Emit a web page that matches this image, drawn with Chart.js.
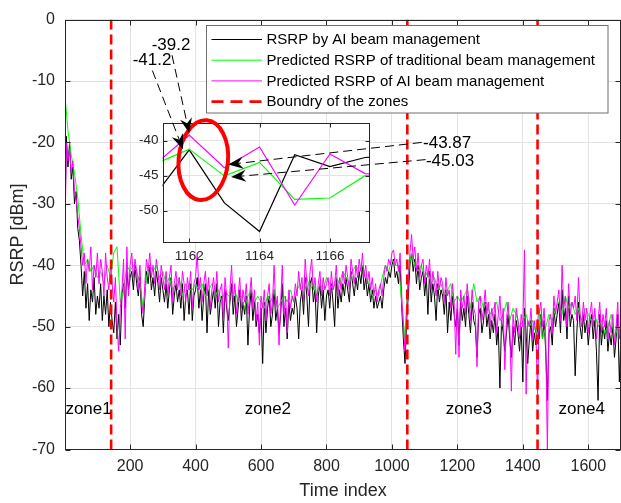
<!DOCTYPE html>
<html><head><meta charset="utf-8">
<script src="https://cdn.jsdelivr.net/npm/chart.js@4.4.1/dist/chart.umd.min.js"></script>
<style>
html,body{margin:0;padding:0;background:#fff;overflow:hidden;}
#wrap{position:relative;width:621px;height:503px;}
canvas{position:absolute;left:0;top:0;}
#inset{pointer-events:none;}
</style></head><body>
<div id="wrap"><canvas id="main" width="621" height="503"></canvas><canvas id="inset" width="621" height="503"></canvas></div>
<script>
// ---------------- DATA ----------------
// time grid: 1, 5, 10, ..., 1700 (fine) and 1, 10, 20, ..., 1700 (coarse)
const timeIndex = Array.from({length: 341}, (_, k) => k === 0 ? 1 : 5 * k);
const timeCoarse = Array.from({length: 171}, (_, k) => k === 0 ? 1 : 10 * k);

// RSRP by AI beam management (black)
const rsrpAI = [-33,
-19,-24,-20,-26,-24,-30,-28,-34,-36,-40,
-45,-41,-47,-43,-49,-44,-46,-42,-48,-45,
-47,-43,-49,-45,-48,-44,-50,-46,-49,-51,
-46,-52,-48,-53,-45,-43,-47,-41,-44,-42,
-41,-44,-40,-43,-45,-42,-48,-50,-45,-41,
-43,-40,-44,-42,-45,-41,-43,-46,-42,-44,
-46,-43,-47,-44,-42,-48,-45,-43,-46,-44,
-47,-43,-49,-45,-44,-48,-43,-49,-45,-44,
-42,-47,-44,-49,-45,-43,-51,-44,-48,-46,
-44,-47,-43,-50,-46,-45,-51,-44,-47,-49,
-46,-43,-48,-45,-50,-47,-44,-49,-46,-48,
-45,-53,-47,-44,-49,-46,-50,-48,-51,-47,
-56,-46,-51,-47,-45,-50,-48,-44,-49,-47,
-51,-48,-43,-50,-47,-52,-46,-49,-47,-48,
-45,-47,-52,-46,-44,-48,-42,-45,-50,-43,
-42,-46,-44,-51,-45,-43,-47,-44,-49,-45,
-44,-47,-43,-46,-50,-42,-47,-44,-46,-43,
-45,-42,-44,-46,-41,-43,-45,-42,-44,-41,
-43,-40,-44,-42,-45,-43,-46,-44,-47,-45,
-47,-46,-45,-47,-44,-42,-43,-41,-42,-40,
-39,-42,-41,-43,-40,-47,-52,-56,-49,-45,
-40,-38,-41,-39,-43,-40,-44,-42,-41,-45,
-42,-48,-41,-46,-43,-45,-49,-43,-46,-44,
-45,-48,-44,-51,-46,-49,-45,-48,-50,-47,
-53,-46,-49,-47,-50,-45,-48,-51,-46,-49,
-50,-55,-48,-47,-51,-49,-46,-50,-48,-52,
-49,-51,-48,-53,-50,-60,-49,-51,-54,-51,
-48,-52,-55,-50,-53,-49,-51,-54,-50,-59,
-47,-51,-56,-52,-49,-54,-51,-53,-50,-52,
-48,-52,-49,-54,-62,-51,-50,-53,-47,-50,
-48,-46,-51,-44,-49,-47,-52,-45,-50,-48,
-49,-58,-51,-46,-50,-52,-48,-51,-49,-53,
-50,-48,-52,-49,-54,-62,-48,-53,-50,-52,
-49,-54,-51,-53,-50,-55,-52,-48,-59,-51];

// Predicted RSRP of traditional beam management (green), coarse grid
const predTraditional = [-12.5,
-18,-22,-25,-29,-35,-40,-39,-41,-40,-42,
-41,-43,-40,-42,-38,-37,-46,-44,-40,-41,
-40,-41,-43,-47,-42,-40,-41,-40,-42,-41,
-43,-42,-44,-43,-42,-45,-43,-44,-44,-43,
-44,-43,-45,-44,-43,-45,-44,-46,-44,-45,
-45,-44,-46,-45,-47,-45,-44,-46,-45,-46,
-47,-45,-46,-44,-47,-46,-45,-46,-44,-46,
-44,-43,-45,-42,-44,-43,-45,-43,-44,-42,
-43,-44,-42,-43,-41,-42,-43,-41,-40,-41,
-40,-42,-43,-45,-44,-45,-42,-40,-41,-39,
-40,-40,-46,-52,-41,-38,-40,-41,-40,-42,
-41,-43,-42,-44,-43,-45,-44,-43,-46,-45,
-46,-45,-44,-47,-43,-46,-45,-47,-46,-48,
-47,-46,-49,-48,-46,-49,-47,-48,-50,-49,
-48,-50,-49,-51,-47,-52,-50,-48,-49,-47,
-46,-48,-45,-47,-46,-48,-47,-49,-47,-48,
-49,-48,-50,-49,-51,-50,-48,-52,-50,-51];

// Predicted RSRP of AI beam management (magenta)
const predAI = [-36,
-20,-23,-21,-25,-23,-28,-29,-32,-34,-37,
-40,-38,-43,-39,-41,-37,-44,-40,-42,-38,
-43,-39,-41,-45,-38,-42,-44,-40,-43,-46,
-42,-50,-54,-47,-44,-39,-52,-37,-45,-40,
-38,-42,-39,-41,-44,-40,-46,-48,-43,-39,
-41,-38,-42,-40,-43,-39,-41,-44,-40,-42,
-44,-41,-45,-42,-40,-46,-43,-41,-44,-42,
-45,-41,-43,-46,-42,-44,-41,-47,-43,-42,
-38,-44,-42,-46,-43,-41,-45,-42,-47,-44,
-42,-45,-41,-46,-44,-43,-49,-42,-45,-53.5,
-44,-40,-46,-43,-48,-45,-42,-47,-44,-46,
-43,-48,-45,-42,-47,-44,-49,-46,-53,-45,
-47,-44,-49,-45,-43,-48,-46,-40,-47,-45,
-53,-46,-40,-48,-45,-51,-44,-47,-45,-46,
-43,-45,-41,-44,-42,-46,-39,-43,-45,-41,
-39,-44,-42,-46,-43,-41,-45,-42,-44,-43,
-42,-45,-41,-44,-43,-40,-45,-42,-44,-41,
-43,-40,-42,-44,-39,-41,-43,-40,-42,-39,
-41,-38,-42,-40,-43,-41,-44,-42,-45,-43,
-46,-44,-43,-45,-42,-40,-41,-39,-40,-38,
-37.5,-40,-39,-41,-38,-45,-50,-54,-47,-43,
-38,-35,-39,-37,-41,-38,-42,-40,-39,-43,
-40,-42,-39,-44,-41,-43,-45,-41,-44,-42,
-43,-46,-42,-45,-44,-47,-43,-46,-54.5,-45,
-55,-44,-47,-45,-48,-43,-46,-49,-44,-47,
-48,-56.5,-46,-45,-49,-47,-44,-48,-46,-50,
-47,-49,-46,-51,-48,-45,-50,-47,-57,-49,
-46,-50,-60.5,-48,-51,-47,-49,-52,-48,-50,
-37.5,-61,-49,-50,-47,-52,-49,-51,-61,-48,
-46,-50,-47,-52,-70,-49,-48,-51,-45,-48,
-46,-44,-49,-40,-47,-45,-50,-43,-48,-46,
-47,-45,-49,-42,-48,-50,-46,-49,-47,-51,
-48,-46,-50,-47,-52,-49,-46,-51,-48,-50,
-47,-52,-49,-51,-48,-53,-50,-46,-52,-49];

const zoneBoundaries = [142, 1047, 1445];
const zoneNames = ['zone1', 'zone2', 'zone3', 'zone4'];
const xTicks = [200, 400, 600, 800, 1000, 1200, 1400, 1600];
const yTicks = [0, -10, -20, -30, -40, -50, -60, -70];

// inset (zoom on time index 1161..1168)
const insetTime = [1161, 1162, 1163, 1164, 1165, 1166, 1167, 1168];
const insetAI = [-48.0, -41.3, -48.9, -53.0, -42.0, -43.7, -42.4, -42.0];
const insetTraditional = [-43.4, -41.2, -45.03, -43.1, -48.4, -48.2, -45.0, -45.0];
const insetPredAI = [-43.5, -39.2, -43.87, -40.9, -49.2, -41.9, -44.7, -45.0];
const insetXTicks = [1162, 1164, 1166];
const insetYTicks = [-50, -45, -40];

// ---------------- LAYOUT / STYLE ----------------
const FONT = "'Liberation Sans', Arial, Helvetica, sans-serif";
const AX = '#262626';
const GRID = '#e3e3e3';
const zoneLabelPos = {t: [73, 621, 1235, 1580], db: -63.4};
const callouts = [
  {text: '-39.2', lt: 325, ld: -4.25, align: 'center', ft: 328, fd: -5.8, tx: 1162.0, ty: -38.9},
  {text: '-41.2', lt: 267, ld: -6.65, align: 'center', ft: 268, fd: -8.3, tx: 1161.82, ty: -41.2},
  {text: '-43.87', lt: 1095, ld: -20.2, align: 'left', ft: 1091, fd: -20.0, tx: 1163.11, ty: -43.4},
  {text: '-45.03', lt: 1104, ld: -23.15, align: 'left', ft: 1103, fd: -22.8, tx: 1163.19, ty: -45.2}
];
const ellipseSpec = {x: 1162.4, y: -42.78, rx: 24.7, ry: 40, rot: 0.09};

const toXY = (xs, ys) => ys.map((y, i) => ({x: xs[i], y}));
const zoneData = [];
zoneBoundaries.forEach(b => { zoneData.push({x: b, y: 0}, {x: b, y: -70}, {x: b, y: null}); });

function drawBoxAndTicks(c, xt, yt, tl) {
  const ctx = c.ctx, a = c.chartArea;
  const L = Math.round(a.left) + 0.5, R = Math.round(a.right) - 0.5, T = Math.round(a.top) + 0.5, B = Math.round(a.bottom) - 0.5;
  ctx.save();
  ctx.strokeStyle = AX; ctx.lineWidth = 1; ctx.setLineDash([]);
  ctx.strokeRect(L, T, R - L, B - T);
  ctx.beginPath();
  xt.forEach(v => {
    const p = Math.round(c.scales.x.getPixelForValue(v)) + 0.5;
    ctx.moveTo(p, B); ctx.lineTo(p, B - tl);
    ctx.moveTo(p, T); ctx.lineTo(p, T + tl);
  });
  yt.forEach(v => {
    const p = Math.round(c.scales.y.getPixelForValue(v)) + 0.5;
    ctx.moveTo(L, p); ctx.lineTo(L + tl, p);
    ctx.moveTo(R, p); ctx.lineTo(R - tl, p);
  });
  ctx.stroke();
  ctx.restore();
}

const mainDecor = {
  id: 'mainDecor',
  beforeDraw(c) { const ctx = c.ctx; ctx.save(); ctx.fillStyle = '#fff'; ctx.fillRect(0, 0, c.width, c.height); ctx.restore(); },
  afterDatasetsDraw(c) { drawBoxAndTicks(c, xTicks, yTicks, 5); },
  afterDraw(c) {
    const ctx = c.ctx, xs = c.scales.x, ys = c.scales.y;
    ctx.save();
    // zone labels
    ctx.font = '17px ' + FONT; ctx.fillStyle = '#000'; ctx.textAlign = 'center'; ctx.textBaseline = 'middle';
    zoneNames.forEach((z, i) => ctx.fillText(z, xs.getPixelForValue(zoneLabelPos.t[i]), ys.getPixelForValue(zoneLabelPos.db)));
    // legend
    const bx = 206.5, by = 25.5, bw = 401.5, bh = 87.5;
    ctx.fillStyle = '#fff'; ctx.fillRect(bx, by, bw, bh);
    ctx.strokeStyle = '#6e6e6e'; ctx.lineWidth = 1; ctx.strokeRect(bx, by, bw, bh);
    ctx.font = '15px ' + FONT; ctx.textAlign = 'left'; ctx.textBaseline = 'middle';
    c.data.datasets.forEach((d, i) => {
      const y = by + 14 + i * 20.7;
      ctx.save();
      ctx.strokeStyle = d.borderColor; ctx.lineWidth = d.borderWidth;
      ctx.setLineDash(d.borderDash ? [12, 7] : []);
      ctx.beginPath(); ctx.moveTo(211.5, y); ctx.lineTo(262, y); ctx.stroke();
      ctx.restore();
      ctx.fillStyle = '#000';
      ctx.fillText(d.label, 266.5, y + 0.5);
    });
    ctx.restore();
  }
};

const mainChart = new Chart(document.getElementById('main'), {
  type: 'line',
  data: {datasets: [
    {label: 'RSRP by AI beam management', data: toXY(timeIndex, rsrpAI), borderColor: '#000000', borderWidth: 1, order: 3},
    {label: 'Predicted RSRP of traditional beam management', data: toXY(timeCoarse, predTraditional), borderColor: '#00ff00', borderWidth: 1, order: 2},
    {label: 'Predicted RSRP of AI beam management', data: toXY(timeIndex, predAI), borderColor: '#ff00ff', borderWidth: 1, order: 1},
    {label: 'Boundry of the zones', data: zoneData, borderColor: '#ff0000', borderWidth: 2.6, borderDash: [10, 5], order: 0, spanGaps: false}
  ]},
  options: {
    responsive: false, animation: false, devicePixelRatio: 1, events: [],
    layout: {padding: {left: 0, right: 0, top: 12.5, bottom: 0}},
    elements: {point: {radius: 0, hoverRadius: 0}, line: {tension: 0, borderJoinStyle: 'round', fill: false}},
    plugins: {legend: {display: false}, tooltip: {enabled: false}},
    scales: {
      x: {type: 'linear', min: 1, max: 1700,
        afterBuildTicks: s => { s.ticks = xTicks.map(v => ({value: v})); },
        afterFit: s => { s.height = 53.5; },
        grid: {color: GRID, drawTicks: false, lineWidth: 1},
        border: {display: false},
        ticks: {font: {family: FONT, size: 16}, color: AX, padding: 7, maxRotation: 0, autoSkip: false, callback: v => String(v)},
        title: {display: true, text: 'Time index', font: {family: FONT, size: 18}, color: AX, padding: {top: 0, bottom: 1}}
      },
      y: {type: 'linear', min: -70, max: 0,
        afterBuildTicks: s => { s.ticks = yTicks.map(v => ({value: v})); },
        afterFit: s => { s.width = 65; },
        grid: {color: GRID, drawTicks: false, lineWidth: 1},
        border: {display: false},
        ticks: {font: {family: FONT, size: 16}, color: AX, padding: 10, autoSkip: false, callback: v => String(v)},
        title: {display: true, text: 'RSRP [dBm]', font: {family: FONT, size: 18}, color: AX, padding: {top: 7, bottom: 0}}
      }
    }
  },
  plugins: [mainDecor]
});

function arrow(ctx, x0, y0, x1, y1) {
  const dx = x1 - x0, dy = y1 - y0, len = Math.hypot(dx, dy), ux = dx / len, uy = dy / len, nx = -uy, ny = ux;
  const L = 15, W = 6, N = 10;
  ctx.save();
  ctx.strokeStyle = '#000'; ctx.lineWidth = 1; ctx.setLineDash([9, 5]);
  ctx.beginPath(); ctx.moveTo(x0, y0); ctx.lineTo(x1 - ux * N, y1 - uy * N); ctx.stroke();
  ctx.setLineDash([]); ctx.fillStyle = '#000';
  ctx.beginPath();
  ctx.moveTo(x1, y1);
  ctx.lineTo(x1 - ux * L + nx * W, y1 - uy * L + ny * W);
  ctx.lineTo(x1 - ux * N, y1 - uy * N);
  ctx.lineTo(x1 - ux * L - nx * W, y1 - uy * L - ny * W);
  ctx.closePath(); ctx.fill();
  ctx.restore();
}

const insetDecor = {
  id: 'insetDecor',
  beforeDraw(c) { const ctx = c.ctx, a = c.chartArea; ctx.save(); ctx.fillStyle = '#fff'; ctx.fillRect(a.left, a.top, a.right - a.left, a.bottom - a.top); ctx.restore(); },
  afterDatasetsDraw(c) { drawBoxAndTicks(c, insetXTicks, insetYTicks, 4); },
  afterDraw(c) {
    const ctx = c.ctx, ix = c.scales.x, iy = c.scales.y, mx = mainChart.scales.x, my = mainChart.scales.y;
    ctx.save();
    // red ellipse
    ctx.strokeStyle = '#ff0000'; ctx.lineWidth = 4;
    ctx.beginPath();
    ctx.ellipse(ix.getPixelForValue(ellipseSpec.x), iy.getPixelForValue(ellipseSpec.y), ellipseSpec.rx, ellipseSpec.ry, ellipseSpec.rot, 0, Math.PI * 2);
    ctx.stroke();
    // callouts
    callouts.forEach(o => {
      arrow(ctx, mx.getPixelForValue(o.ft), my.getPixelForValue(o.fd), ix.getPixelForValue(o.tx), iy.getPixelForValue(o.ty));
      ctx.font = '17px ' + FONT; ctx.fillStyle = '#000'; ctx.textAlign = o.align; ctx.textBaseline = 'middle';
      ctx.fillText(o.text, mx.getPixelForValue(o.lt), my.getPixelForValue(o.ld));
    });
    ctx.restore();
  }
};

new Chart(document.getElementById('inset'), {
  type: 'line',
  data: {datasets: [
    {data: toXY(insetTime, insetAI), borderColor: '#000000', borderWidth: 1.2, order: 3},
    {data: toXY(insetTime, insetTraditional), borderColor: '#00ff00', borderWidth: 1.2, order: 2},
    {data: toXY(insetTime, insetPredAI), borderColor: '#ff00ff', borderWidth: 1.2, order: 1}
  ]},
  options: {
    responsive: false, animation: false, devicePixelRatio: 1, events: [],
    layout: {padding: {left: 132.5, top: 123.3, right: 251, bottom: 240.3}},
    elements: {point: {radius: 0, hoverRadius: 0}, line: {tension: 0, fill: false}},
    plugins: {legend: {display: false}, tooltip: {enabled: false}},
    scales: {
      x: {type: 'linear', min: 1161.24, max: 1167.14,
        afterBuildTicks: s => { s.ticks = insetXTicks.map(v => ({value: v})); },
        afterFit: s => { s.height = 20; },
        grid: {color: GRID, drawTicks: false},
        border: {display: false},
        ticks: {font: {family: FONT, size: 13.5}, color: AX, padding: 5, maxRotation: 0, autoSkip: false, callback: v => String(v)}
      },
      y: {type: 'linear', min: -54.6, max: -37.5,
        afterBuildTicks: s => { s.ticks = insetYTicks.map(v => ({value: v})); },
        afterFit: s => { s.width = 30; },
        grid: {color: GRID, drawTicks: false},
        border: {display: false},
        ticks: {font: {family: FONT, size: 13.5}, color: AX, padding: 4, autoSkip: false, callback: v => String(v)}
      }
    }
  },
  plugins: [insetDecor]
});
</script>
</body></html>
